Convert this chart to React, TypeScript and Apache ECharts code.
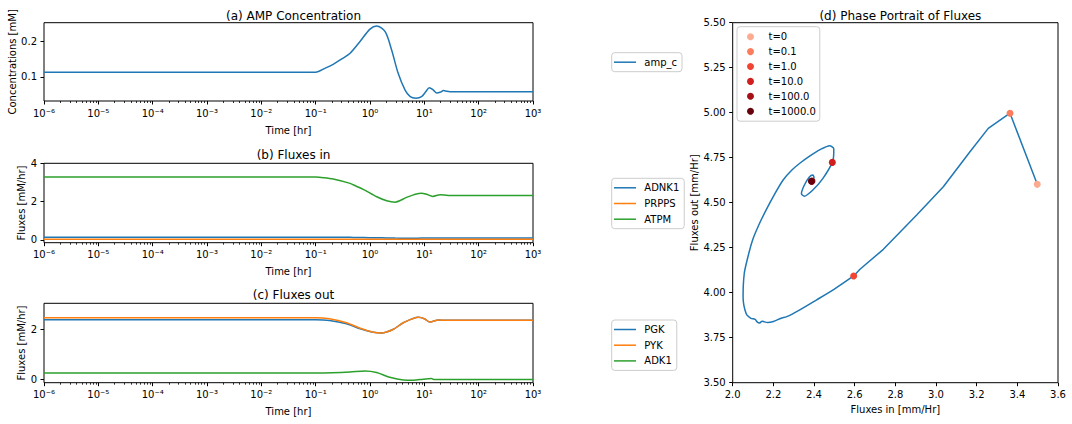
import React, { useEffect, useRef } from "react";
import * as echarts from "echarts";

// (a) AMP concentration
const ampTime = [1e-6, 0.08, 0.1, 0.148, 0.21, 0.316, 0.43, 0.65, 1.0, 1.33, 1.9, 2.5, 3.3, 4.4, 5.5, 7.0, 8.9, 10.5, 12.4, 14.5, 17, 20, 22.4, 26, 29.5, 1000];
const ampValues = [0.113, 0.113, 0.113, 0.124, 0.135, 0.152, 0.166, 0.198, 0.233, 0.242, 0.226, 0.175, 0.11, 0.064, 0.045, 0.041, 0.045, 0.058, 0.07, 0.064, 0.055, 0.058, 0.062, 0.06, 0.059, 0.059];

// (b) Fluxes in
const inTime = [1e-6, 0.08, 0.1, 0.14, 0.21, 0.43, 0.56, 0.75, 1.33, 2.03, 2.9, 4.7, 6.3, 8.9, 11, 14.3, 19.5, 27.5, 1000];
const adnk1Values = [0.14, 0.14, 0.14, 0.14, 0.135, 0.13, 0.125, 0.12, 0.11, 0.1, 0.09, 0.085, 0.085, 0.09, 0.09, 0.09, 0.09, 0.09, 0.09];
const prppsValues = [0.03, 0.03, 0.03, 0.03, 0.03, 0.029, 0.028, 0.027, 0.026, 0.025, 0.025, 0.025, 0.025, 0.025, 0.025, 0.025, 0.025, 0.025, 0.025];
const atpmValues = [3.28, 3.28, 3.28, 3.25, 3.18, 2.95, 2.8, 2.64, 2.25, 2.04, 1.97, 2.22, 2.35, 2.44, 2.38, 2.27, 2.36, 2.32, 2.32];

// (c) Fluxes out
const outTime = [1e-6, 0.08, 0.1, 0.18, 0.37, 0.66, 1.15, 1.64, 2.7, 4.1, 7.8, 10, 12.7, 18.2, 25, 1000];
const pgkValues = [2.38, 2.38, 2.38, 2.35, 2.22, 2.02, 1.88, 1.85, 2.0, 2.26, 2.48, 2.42, 2.29, 2.37, 2.36, 2.36];
const pykValues = [2.46, 2.46, 2.46, 2.42, 2.26, 2.04, 1.88, 1.85, 2.0, 2.26, 2.48, 2.42, 2.29, 2.37, 2.36, 2.36];
const adk1Time = [1e-6, 0.08, 0.1, 0.2, 0.43, 0.81, 1.32, 2.3, 4.1, 6.3, 9.5, 13.5, 14.8, 1000];
const adk1Values = [0.25, 0.25, 0.25, 0.26, 0.29, 0.33, 0.27, 0.08, -0.03, -0.04, 0.0, 0.03, -0.01, -0.01];

// (d) Phase portrait
const phaseIn1 = [3.498, 3.364, 3.257, 3.167, 3.036, 2.905, 2.741, 2.626, 2.595];
const phaseOut1 = [4.602, 4.997, 4.913, 4.783, 4.589, 4.432, 4.241, 4.13, 4.093];
const phaseIn2 = [2.595, 2.5, 2.411, 2.33, 2.266, 2.238, 2.2, 2.172, 2.156, 2.145, 2.131, 2.12, 2.11, 2.09, 2.075, 2.066, 2.055, 2.051, 2.057, 2.075, 2.098, 2.13, 2.164, 2.205, 2.248, 2.29, 2.33, 2.38, 2.43, 2.477, 2.497, 2.497, 2.49, 2.443, 2.393, 2.352, 2.338, 2.352, 2.377, 2.394, 2.4, 2.39];
const phaseOut2 = [4.093, 4.02, 3.959, 3.905, 3.867, 3.858, 3.84, 3.835, 3.838, 3.842, 3.831, 3.838, 3.852, 3.857, 3.87, 3.885, 3.93, 3.978, 4.108, 4.2, 4.293, 4.38, 4.459, 4.545, 4.626, 4.68, 4.719, 4.76, 4.795, 4.817, 4.8, 4.774, 4.724, 4.634, 4.569, 4.536, 4.55, 4.597, 4.643, 4.654, 4.64, 4.62];
const markerLabels = ["t=0", "t=0.1", "t=1.0", "t=10.0", "t=100.0", "t=1000.0"];
const markerIn = [3.498, 3.364, 2.595, 2.49, 2.39, 2.387];
const markerOut = [4.602, 4.997, 4.093, 4.724, 4.62, 4.619];
const markerColors = ["#fcab8f", "#fb7d5d", "#f14432", "#d11e1f", "#a50f15", "#67000d"];

// Ticks
const ampTicks = [0.1, 0.2];
const inTicks = [0, 2, 4];
const outTicks = [0, 2];

const FONT = "DejaVu Sans";
const BLUE = "#1f77b4";
const ORANGE = "#ff7f0e";
const GREEN = "#2ca02c";

const SUP: Record<string, string> = {
  "-": "\u207B", "0": "\u2070", "1": "\u00B9", "2": "\u00B2", "3": "\u00B3",
  "4": "\u2074", "5": "\u2075", "6": "\u2076", "7": "\u2077", "8": "\u2078", "9": "\u2079",
};
const decadeLabel = (v: number) =>
  "10" + String(Math.round(v)).split("").map((c) => SUP[c]).join("");

const pairs = (xs: number[], ys: number[]) => xs.map((x, i) => [x, ys[i]]);

const minorLog: number[] = [];
for (let d = -6; d < 3; d++) for (let k = 2; k <= 9; k++) minorLog.push(d + Math.log10(k));

const gridsDef = [
  { left: 44, top: 22.7, width: 489, height: 78.3 },
  { left: 44, top: 163.3, width: 489, height: 79.4 },
  { left: 44, top: 303.3, width: 489, height: 79.4 },
  { left: 732.7, top: 22.7, width: 325.3, height: 360 },
];

const tickStyle = { color: "#000", width: 1 };
const labelStyle = { color: "#000", fontSize: 10, fontFamily: FONT };
const nameStyle = { color: "#000", fontSize: 10, fontFamily: FONT };
const noLine = { show: false, onZero: false };

function logHidden(gridIndex: number) {
  return { type: "log", logBase: 10, min: 1e-6, max: 1e3, gridIndex, show: false, axisLine: noLine };
}
function decadeAxis(gridIndex: number) {
  return {
    type: "value", gridIndex, position: "bottom", min: -6, max: 3, interval: 1,
    axisLine: noLine, splitLine: { show: false },
    axisTick: { show: true, length: 3.5, lineStyle: tickStyle },
    axisLabel: { ...labelStyle, margin: 7, formatter: decadeLabel, showMinLabel: true, showMaxLabel: true },
    name: "Time [hr]", nameLocation: "middle", nameGap: 24, nameTextStyle: nameStyle,
  };
}
function minorAxis(gridIndex: number) {
  return {
    type: "value", gridIndex, position: "bottom", min: -6, max: 3,
    axisLine: noLine, splitLine: { show: false }, axisLabel: { show: false },
    axisTick: { show: true, length: 2, lineStyle: { color: "#000", width: 0.8 }, customValues: minorLog },
  };
}
function yAxisDef(gridIndex: number, min: number, max: number, ticks: number[], name: string, nameGap: number) {
  return {
    type: "value", gridIndex, min, max, position: "left",
    axisLine: noLine, splitLine: { show: false },
    axisTick: { show: true, length: 3.5, lineStyle: tickStyle, customValues: ticks },
    axisLabel: { ...labelStyle, margin: 7, customValues: ticks, formatter: (v: number) => String(v) },
    name, nameLocation: "middle", nameGap, nameRotate: 90, nameTextStyle: nameStyle,
  };
}

function lineSeries(name: string, xIdx: number, yIdx: number, data: number[][], color: string, smooth: number | boolean = 0.3) {
  return {
    type: "line", name, xAxisIndex: xIdx, yAxisIndex: yIdx, data, symbol: "none", smooth,
    lineStyle: { color, width: 1.5 }, itemStyle: { color }, z: 2,
  };
}

function legendBox(names: string[], top: number, itemGap: number) {
  return {
    data: names, orient: "vertical", left: 611.7, top,
    padding: [3.5, 5, 3.5, 2.3], itemGap, itemWidth: 22, itemHeight: 1.5, icon: "rect",
    borderColor: "#cccccc", borderWidth: 1, borderRadius: 3, backgroundColor: "#fff",
    selectedMode: false,
    textStyle: { color: "#000", fontSize: 10, fontFamily: FONT, lineHeight: 12, padding: [0, 0, 0, 3.3] },
  };
}

export default function App() {
  const ref = useRef<HTMLDivElement>(null);
  useEffect(() => {
    if (!ref.current) return;
    const chart = echarts.init(ref.current, undefined, { renderer: "svg" });
    const titles = [
      ["(a) AMP Concentration", 288.5, 5],
      ["(b) Fluxes in", 288.5, 144],
      ["(c) Fluxes out", 288.5, 283.5],
      ["(d) Phase Portrait of Fluxes", 895.4, 5],
    ].map(([text, x, top]) => ({
      text, left: x, top, textAlign: "center",
      textStyle: { color: "#000", fontSize: 12, fontWeight: "normal", fontFamily: FONT },
    }));

    const scatterSeries = markerLabels.map((lab, i) => ({
      type: "scatter", name: lab, xAxisIndex: 3, yAxisIndex: 3,
      data: [[markerIn[i], markerOut[i]]], symbol: "circle", symbolSize: 7,
      itemStyle: { color: markerColors[i], opacity: 1 }, z: 5,
    }));

    chart.setOption({
      animation: false,
      backgroundColor: "#fff",
      textStyle: { fontFamily: FONT },
      title: titles,
      grid: gridsDef.map((g) => ({ ...g, show: true, borderColor: "#000", borderWidth: 1, backgroundColor: "transparent", containLabel: false })),
      xAxis: [
        logHidden(0), logHidden(1), logHidden(2),
        {
          type: "value", gridIndex: 3, min: 2.0, max: 3.6, interval: 0.2, position: "bottom",
          axisLine: noLine, splitLine: { show: false },
          axisTick: { show: true, length: 3.5, lineStyle: tickStyle },
          axisLabel: { ...labelStyle, margin: 7, formatter: (v: number) => v.toFixed(1) },
          name: "Fluxes in [mm/Hr]", nameLocation: "middle", nameGap: 20.5, nameTextStyle: nameStyle,
        },
        decadeAxis(0), decadeAxis(1), decadeAxis(2),
        minorAxis(0), minorAxis(1), minorAxis(2),
      ],
      yAxis: [
        yAxisDef(0, 0.033, 0.251, ampTicks, "Concentrations [mM]", 26),
        yAxisDef(1, -0.15, 4, inTicks, "Fluxes [mM/hr]", 17),
        yAxisDef(2, -0.14, 3.04, outTicks, "Fluxes [mM/hr]", 17),
        {
          type: "value", gridIndex: 3, min: 3.5, max: 5.5, interval: 0.25, position: "left",
          axisLine: noLine, splitLine: { show: false },
          axisTick: { show: true, length: 3.5, lineStyle: tickStyle },
          axisLabel: { ...labelStyle, margin: 7, formatter: (v: number) => v.toFixed(2) },
          name: "Fluxes out [mm/Hr]", nameLocation: "middle", nameGap: 33.4, nameRotate: 90, nameTextStyle: nameStyle,
        },
      ],
      legend: [
        legendBox(["amp_c"], 52.7, 3.7),
        legendBox(["ADNK1", "PRPPS", "ATPM"], 178.3, 3.7),
        legendBox(["PGK", "PYK", "ADK1"], 320, 3.7),
        {
          data: markerLabels, orient: "vertical", left: 737, top: 26.7,
          padding: [4, 4, 4, 10], itemGap: 2.9, itemWidth: 8, itemHeight: 7, icon: "circle",
          borderColor: "#cccccc", borderWidth: 1, borderRadius: 3, backgroundColor: "#fff",
          selectedMode: false,
          textStyle: { color: "#000", fontSize: 10, fontFamily: FONT, lineHeight: 12, padding: [0, 0, 0, 9] },
        },
      ],
      series: [
        lineSeries("amp_c", 0, 0, pairs(ampTime, ampValues), BLUE),
        lineSeries("ADNK1", 1, 1, pairs(inTime, adnk1Values), BLUE),
        lineSeries("PRPPS", 1, 1, pairs(inTime, prppsValues), ORANGE),
        lineSeries("ATPM", 1, 1, pairs(inTime, atpmValues), GREEN),
        lineSeries("PGK", 2, 2, pairs(outTime, pgkValues), BLUE),
        lineSeries("PYK", 2, 2, pairs(outTime, pykValues), ORANGE),
        lineSeries("ADK1", 2, 2, pairs(adk1Time, adk1Values), GREEN),
        lineSeries("traj1", 3, 3, pairs(phaseIn1, phaseOut1), BLUE, false),
        lineSeries("traj2", 3, 3, pairs(phaseIn2, phaseOut2), BLUE, 0.25),
        ...scatterSeries,
      ],
    } as any);
    return () => chart.dispose();
  }, []);
  return <div ref={ref} style={{ position: "absolute", left: 0, top: 0, width: 1072, height: 424 }} />;
}
